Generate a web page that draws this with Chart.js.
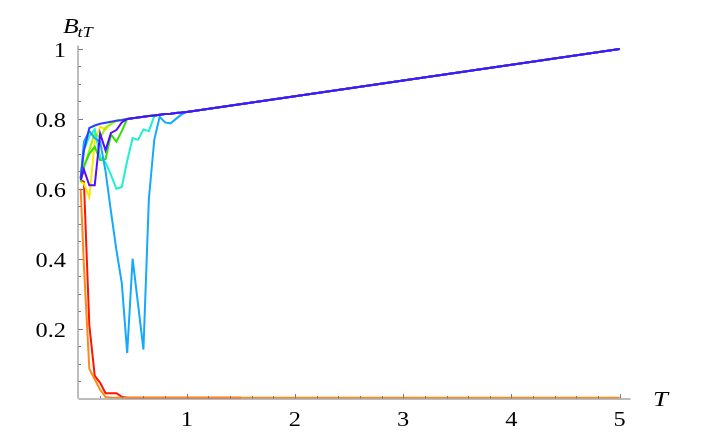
<!DOCTYPE html>
<html>
<head>
<meta charset="utf-8">
<script src="https://cdn.jsdelivr.net/npm/chart.js@4.4.1/dist/chart.umd.min.js"></script>
<style>
  html, body { margin: 0; padding: 0; background: #fff; }
  #wrap { width: 708px; height: 438px; }
</style>
</head>
<body>
<div id="wrap"><canvas id="btChart" width="708" height="438"></canvas></div>
<script>
// common upper curve that every non-vanishing series joins
const envT = [0.1, 0.15, 0.2, 0.25, 0.3, 0.35, 0.4, 0.45, 0.5, 0.55, 0.6, 0.65, 0.7, 0.75, 0.8, 0.85, 0.9, 0.95, 1, 2, 3, 4, 5];
const envB = [0.774, 0.781, 0.786, 0.789, 0.792, 0.795, 0.797, 0.800, 0.802, 0.804, 0.806, 0.808, 0.810, 0.812, 0.814, 0.815, 0.817, 0.818, 0.820, 0.865, 0.910, 0.955, 1.000];

// early parts of each series (T, B_tT)
const tRed = [0.02, 0.05, 0.1, 0.15, 0.2, 0.25, 0.3, 0.35, 0.4, 0.45, 1.5];
const bRed = [0.625, 0.62, 0.21, 0.065, 0.045, 0.015, 0.015, 0.015, 0.005, 0.002, 0.002];

const tOrange = [0.02, 0.05, 0.1, 0.15, 0.2, 0.25, 0.3, 1, 2, 3, 4, 5];
const bOrange = [0.6, 0.38, 0.085, 0.055, 0.025, 0.004, 0.002, 0.002, 0.002, 0.002, 0.002, 0.002];

const tYellow = [0.02, 0.05, 0.1, 0.15, 0.2, 0.25, 0.3];
const bYellow = [0.62, 0.615, 0.575, 0.735, 0.778, 0.77, 0.788];

const tLime = [0.02, 0.05, 0.1, 0.15, 0.2, 0.25, 0.3];
const bLime = [0.62, 0.66, 0.71, 0.76, 0.745, 0.775, 0.785];

const tGreen = [0.02, 0.05, 0.1, 0.15, 0.2, 0.25, 0.3, 0.35, 0.4];
const bGreen = [0.62, 0.665, 0.70, 0.72, 0.682, 0.685, 0.755, 0.735, 0.765];

const tCyan = [0.02, 0.05, 0.1, 0.15, 0.2, 0.25, 0.3, 0.35, 0.4, 0.45, 0.5, 0.55, 0.6, 0.65, 0.7];
const bCyan = [0.63, 0.71, 0.75, 0.77, 0.69, 0.675, 0.64, 0.60, 0.605, 0.68, 0.745, 0.74, 0.77, 0.765, 0.808];

const tAzure = [0.02, 0.05, 0.1, 0.15, 0.2, 0.25, 0.3, 0.35, 0.4, 0.45, 0.5, 0.55, 0.6, 0.65, 0.7, 0.75, 0.8, 0.85, 0.9, 0.95];
const bAzure = [0.63, 0.735, 0.765, 0.745, 0.735, 0.65, 0.535, 0.425, 0.33, 0.13, 0.40, 0.27, 0.14, 0.57, 0.74, 0.806, 0.79, 0.787, 0.80, 0.812];

const tBlue = [0.02, 0.05];
const bBlue = [0.63, 0.71];

const tViolet = [0.02, 0.05, 0.1, 0.15, 0.2, 0.25, 0.3, 0.35, 0.4];
const bViolet = [0.625, 0.655, 0.61, 0.61, 0.758, 0.71, 0.76, 0.768, 0.79];

// tick labels
const xTickLabels = [1, 2, 3, 4, 5];
const yTickLabels = [0.2, 0.4, 0.6, 0.8, 1];

function points(ts, bs, joinEnvelope) {
    const pts = ts.map((t, i) => ({ x: t, y: bs[i] }));
    if (joinEnvelope) {
        const last = ts[ts.length - 1];
        envT.forEach((t, i) => {
            if (t > last + 1e-9) pts.push({ x: t, y: envB[i] });
        });
    }
    return pts;
}

function series(label, color, ts, bs, joinEnvelope) {
    return {
        label: label,
        data: points(ts, bs, joinEnvelope),
        borderColor: color,
        backgroundColor: color,
        borderWidth: 2,
        pointRadius: 0,
        showLine: true,
        tension: 0,
        fill: false
    };
}

const SERIF = '"Liberation Serif", "Times New Roman", serif';
const STRETCH = 1.22; // reference text is a little wider than Times

function stretchedText(ctx, txt, x, y, align) {
    ctx.save();
    ctx.translate(x, y);
    ctx.scale(STRETCH, 1);
    ctx.textAlign = align;
    ctx.textBaseline = 'alphabetic';
    ctx.fillText(txt, 0, 0);
    ctx.restore();
}

// Mathematica-style axes: ticks pointing inward, no frame
const axesPlugin = {
    id: 'mmaAxes',
    afterDatasetsDraw(chart) {
        const ctx = chart.ctx;
        const xs = chart.scales.x;
        const ys = chart.scales.y;
        const x0 = xs.getPixelForValue(0);
        const y0 = ys.getPixelForValue(0);

        ctx.save();
        ctx.strokeStyle = '#7a7a7a';
        ctx.lineWidth = 1;

        // axis lines
        ctx.beginPath();
        ctx.moveTo(x0, y0 + 0.5);
        ctx.lineTo(xs.right, y0 + 0.5);
        ctx.moveTo(x0 - 0.5, y0);
        ctx.lineTo(x0 - 0.5, ys.top);
        ctx.stroke();

        // x ticks every 0.2, major on integers
        ctx.beginPath();
        for (let k = 1; k <= 25; k++) {
            const px = Math.round(xs.getPixelForValue(k * 0.2)) + 0.5;
            const len = (k % 5 === 0) ? 4.5 : 2.5;
            ctx.moveTo(px, y0);
            ctx.lineTo(px, y0 - len);
        }
        // y ticks every 0.05, major every 0.2
        for (let k = 1; k <= 20; k++) {
            const py = Math.round(ys.getPixelForValue(k * 0.05)) + 0.5;
            const len = (k % 4 === 0) ? 4.5 : 2.5;
            ctx.moveTo(x0, py);
            ctx.lineTo(x0 + len, py);
        }
        ctx.stroke();

        // tick labels
        ctx.fillStyle = '#000';
        ctx.font = '20px ' + SERIF;
        xTickLabels.forEach(v => {
            stretchedText(ctx, String(v), xs.getPixelForValue(v), 426, 'center');
        });
        yTickLabels.forEach(v => {
            stretchedText(ctx, String(v), 66, ys.getPixelForValue(v) + 8, 'right');
        });

        // axis titles
        ctx.font = 'italic 21px ' + SERIF;
        stretchedText(ctx, 'B', 63, 33, 'left');
        ctx.font = 'italic 15px ' + SERIF;
        stretchedText(ctx, 'tT', 77.5, 37, 'left');
        ctx.font = 'italic 22px ' + SERIF;
        stretchedText(ctx, 'T', 653, 406, 'left');
        ctx.restore();
    }
};

// Chart.js paints dataset 0 on top, so list them from violet (top) to red (bottom)
const ctx = document.getElementById('btChart').getContext('2d');
new Chart(ctx, {
    type: 'scatter',
    data: {
        datasets: [
            series('violet', '#5010ff', tViolet, bViolet, true),
            series('blue', '#2a40ff', tBlue, bBlue, true),
            series('azure', '#14a8ff', tAzure, bAzure, true),
            series('cyan', '#1ef0d2', tCyan, bCyan, true),
            series('green', '#30e000', tGreen, bGreen, true),
            series('lime', '#9cf500', tLime, bLime, true),
            series('yellow', '#ffe600', tYellow, bYellow, true),
            series('orange', '#ff8a1a', tOrange, bOrange, false),
            series('red', '#ff1400', tRed, bRed, false)
        ]
    },
    options: {
        responsive: false,
        animation: false,
        layout: { padding: { left: 78.5, right: 77.5, top: 45.5, bottom: 39.5 } },
        plugins: {
            legend: { display: false },
            tooltip: { enabled: false }
        },
        scales: {
            x: { type: 'linear', min: 0, max: 5.1, display: false },
            y: { type: 'linear', min: 0, max: 1.01, display: false }
        }
    },
    plugins: [axesPlugin]
});
</script>
</body>
</html>
